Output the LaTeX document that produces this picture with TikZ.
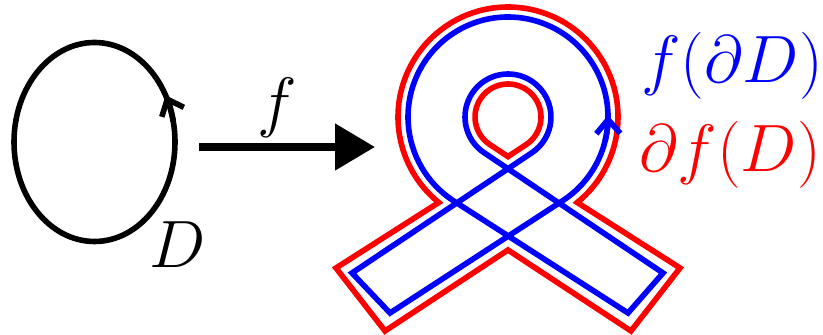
\documentclass[tikz,border=0pt]{standalone}
\usepackage{amsmath}
\usetikzlibrary{arrows.meta}

\begin{document}
\begin{tikzpicture}[x=0.5pt, y=0.5pt]
    \tikzset{
        curvestyle/.style={line width=2.8pt, line join=miter},
        labelstyle/.style={font=\Huge, inner sep=0pt, scale=1.346},
        maparrow/.style={line width=4pt, -{Triangle[length=20pt, width=22.5pt]}},
        tipstyle/.style={-{Straight Barb[length=7pt, width=12pt]}}
    }
    \useasboundingbox (0,0) rectangle (823,335);

    % Disque D (ellipse orientée)
    \draw[curvestyle] (94.5,193) ellipse [x radius=80.5, y radius=99.5];
    \draw[curvestyle, tipstyle] (94.5,193) ++(12:80.5 and 99.5)
        arc[start angle=12, end angle=28, x radius=80.5, y radius=99.5];
    \node[labelstyle] (dlabel) at (178,90) {$D$};

    % Application f
    \coordinate (mapfrom) at (199,188);
    \coordinate (mapto) at (375,188);
    \draw[maparrow] (mapfrom) -- (mapto);
    \node[labelstyle] (flabel) at (277,227) {$f$};

    % Centre du ruban
    \coordinate (centre) at (508,218);

    % Bord de l'image (rouge) : contour extérieur
    \draw[curvestyle, red] ([shift={(-51:110)}]centre)
        arc[start angle=-51, end angle=231, radius=110]
        -- (336,67) -- (385,4) -- (508,85) -- (631,4) -- (680,67) -- cycle;
    % Bord de l'image (rouge) : goutte intérieure
    \draw[curvestyle, red] (508,178.4) -- ([shift={(-56.5:33)}]centre)
        arc[start angle=-56.5, end angle=236.5, radius=33] -- cycle;

    % Image du bord (bleu)
    \draw[curvestyle, blue] (390,22) -- ([shift={(-56.5:100)}]centre)
        arc[start angle=-56.5, end angle=236.5, radius=100]
        -- (628,22) -- (663,62) -- ([shift={(236.5:43)}]centre)
        arc[start angle=236.5, end angle=-56.5, radius=43]
        -- (352,62) -- cycle;
    \draw[curvestyle, blue, tipstyle] ([shift={(-14:100)}]centre)
        arc[start angle=-14, end angle=1, radius=100];

    % Légendes
    \node[labelstyle, text=blue] (imgboundary) at (732,269) {$f(\partial D)$};
    \node[labelstyle, text=red] (boundaryimg) at (730,180) {$\partial f(D)$};

\end{tikzpicture}
\end{document}
